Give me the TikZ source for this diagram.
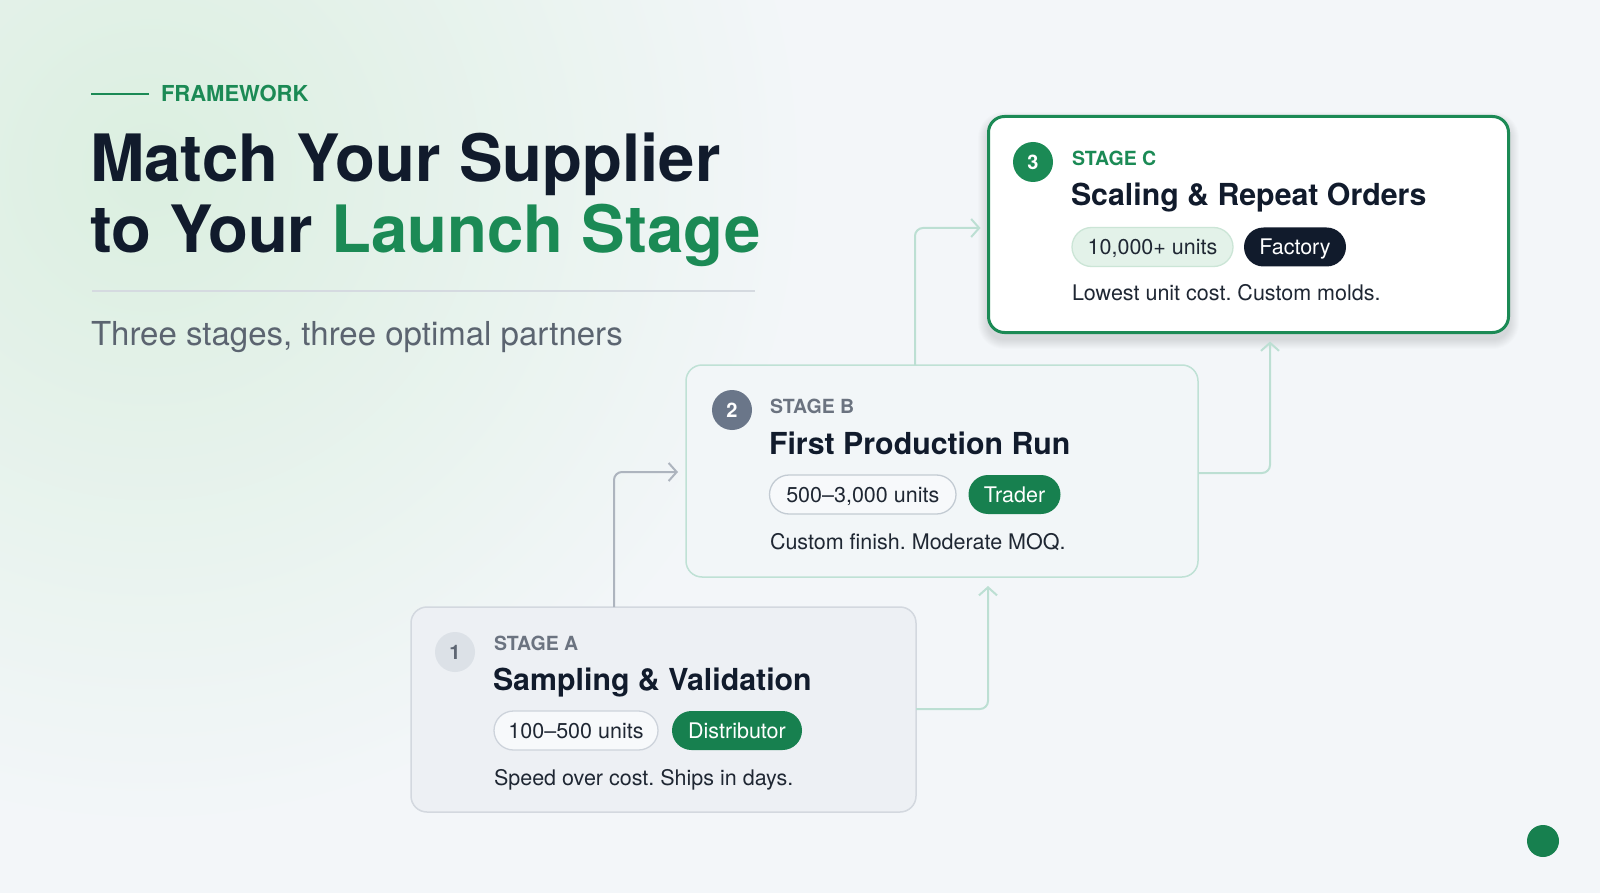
\documentclass[tikz,border=0pt]{standalone}
\usepackage{fontspec}
\setmainfont{TeX Gyre Heros}
\usetikzlibrary{arrows.meta,positioning,calc}
\frenchspacing
\definecolor{bg}{HTML}{F3F6F9}
\definecolor{glowc}{HTML}{DBEFE0}
\definecolor{navy}{HTML}{111B2C}
\definecolor{brand}{HTML}{1B8A55}
\definecolor{pillgreen}{HTML}{17804F}
\definecolor{muted}{HTML}{6B7380}
\definecolor{subtxt}{HTML}{5B6470}
\definecolor{desctxt}{HTML}{1F2733}
\definecolor{divline}{HTML}{D5DAE0}
\definecolor{cardAfill}{HTML}{EDF0F4}
\definecolor{cardAline}{HTML}{D3D8DF}
\definecolor{cardBfill}{HTML}{F2F6F8}
\definecolor{cardBline}{HTML}{BFE1D5}
\definecolor{circA}{HTML}{DCE1E7}
\definecolor{circAtxt}{HTML}{5E6673}
\definecolor{circB}{HTML}{6A7689}
\definecolor{pillAfill}{HTML}{F7F9FB}
\definecolor{pillAline}{HTML}{CDD3DB}
\definecolor{pillBline}{HTML}{C3CBD3}
\definecolor{pillCfill}{HTML}{E3F2E9}
\definecolor{pillCline}{HTML}{CBE5D6}
\definecolor{conngray}{HTML}{ADB4BE}
\definecolor{connteal}{HTML}{BCDFD3}
\begin{document}
\begin{tikzpicture}[x=1pt,y=-1pt,
  every node/.style={inner sep=0pt, outer sep=0pt},
  txt/.style={anchor=base west},
  headline/.style={txt, text=navy, font=\bfseries\fontsize{65.3}{70}\selectfont},
  stagelbl/.style={txt, text=muted, font=\bfseries\fontsize{19.5}{22}\selectfont},
  cardtitle/.style={txt, text=navy, font=\bfseries\fontsize{30.3}{34}\selectfont},
  desc/.style={txt, text=desctxt, font=\fontsize{21.5}{24}\selectfont},
  cardbase/.style={rounded corners=16pt, draw, line width=1.5pt},
  cardAstyle/.style={cardbase, fill=cardAfill, draw=cardAline, minimum width=505pt, minimum height=205pt},
  cardBstyle/.style={cardbase, fill=cardBfill, draw=cardBline, minimum width=512pt, minimum height=212pt},
  cardCstyle/.style={cardbase, fill=white, draw=brand, line width=3pt, minimum width=520pt, minimum height=216pt},
  num/.style={circle, minimum size=40pt, font=\bfseries\fontsize{20}{20}\selectfont},
  pill/.style={rounded corners=19.5pt, minimum height=39pt, text height=15.5pt, text depth=0pt,
    font=\fontsize{21.5}{24}\selectfont, line width=1.3pt},
  pillout/.style={pill, fill=pillAfill, draw=pillAline, text=desctxt},
  pillgreenst/.style={pill, fill=pillgreen, text=white},
  conn/.style={line width=2pt, rounded corners=8pt, -{Straight Barb[length=8pt,width=18pt]}},
]
\useasboundingbox (0,0) rectangle (1600,893);
\begin{scope}
  \clip (0,0) rectangle (1600,893);
  \fill[bg] (0,0) rectangle (1600,893);
  \shade[inner color=glowc, outer color=bg] (150,170) circle (660);
\end{scope}

% heading
\node[txt, text=brand, font=\bfseries\fontsize{22}{24}\selectfont] (fw) at (161,102) {FRAMEWORK};
\draw[brand, line width=2pt] ([xshift=-12pt,yshift=8pt]fw.base west) -- ++(-58,0);
\node[headline] (h1) at (90,182) {Match Your Supplier};
\node[headline] (h2) at (90,253) {to Your \textcolor{brand}{Launch Stage}};
\draw[divline, line width=1.5pt] (92,291) -- (755,291);
\node[txt, text=subtxt, font=\fontsize{33}{36}\selectfont] (sub) at (91,345) {Three stages, three optimal partners};

% shadow of card C
\foreach \i in {1,...,10}
  \fill[black, opacity=0.012, rounded corners=16pt+\i pt] (988-\i,116-\i+6) rectangle (1509+\i,333+\i+6);

% cards
\node[cardAstyle] (cardA) at (663.5,709.5) {};
\node[cardBstyle] (cardB) at (942,471) {};
\node[cardCstyle] (cardC) at (1248.5,224.5) {};

% connectors
\coordinate (k1) at (614,472);
\coordinate (k2) at (988,709);
\coordinate (k3) at (915,228);
\coordinate (k4) at (1270,473);
\draw[conn, conngray, shorten >=8pt] (cardA.north -| k1) |- (cardB.west |- k1);
\draw[conn, connteal, shorten >=9pt] (cardA.east |- k2) -| (cardB.south -| k2);
\draw[conn, connteal, shorten >=8pt] (cardB.north -| k3) |- (cardC.west |- k3);
\draw[conn, connteal, shorten >=9pt] (cardB.east |- k4) -| (cardC.south -| k4);

% card A
\node[num, fill=circA, text=circAtxt] (nA) at (455,652) {1};
\node[stagelbl] (sA) at (494,650) {STAGE A};
\node[cardtitle] (tA) at (493,690) {Sampling \& Validation};
\node[pillout, minimum width=164pt] (pA1) at (576,730.5) {100–500 units};
\node[pillgreenst, minimum width=130pt] (pA2) at (737,730.5) {Distributor};
\node[desc] (dA) at (494,785) {Speed over cost. Ships in days.};

% card B
\node[num, fill=circB, text=white] (nB) at (732,410) {2};
\node[stagelbl] (sB) at (770,413) {STAGE B};
\node[cardtitle] (tB) at (769,454) {First Production Run};
\node[pillout, draw=pillBline, minimum width=186.5pt] (pB1) at (862.75,494.5) {500–3,000 units};
\node[pillgreenst, minimum width=92pt] (pB2) at (1014.5,494.5) {Trader};
\node[desc] (dB) at (770,549) {Custom finish. Moderate MOQ.};

% card C
\node[num, fill=brand, text=white] (nC) at (1033,162) {3};
\node[stagelbl, text=brand] (sC) at (1072,166) {STAGE C};
\node[cardtitle] (tC) at (1071,206) {Scaling \& Repeat Orders};
\node[pillout, fill=pillCfill, draw=pillCline, minimum width=161pt] (pC1) at (1152.5,247) {10,000+ units};
\node[pill, fill=navy, text=white, minimum width=102pt] (pC2) at (1295,247) {Factory};
\node[desc] (dC) at (1072,301) {Lowest unit cost. Custom molds.};

% dot
\node[circle, fill=pillgreen, minimum size=32pt] (dot) at (1543,841) {};
\end{tikzpicture}
\end{document}
